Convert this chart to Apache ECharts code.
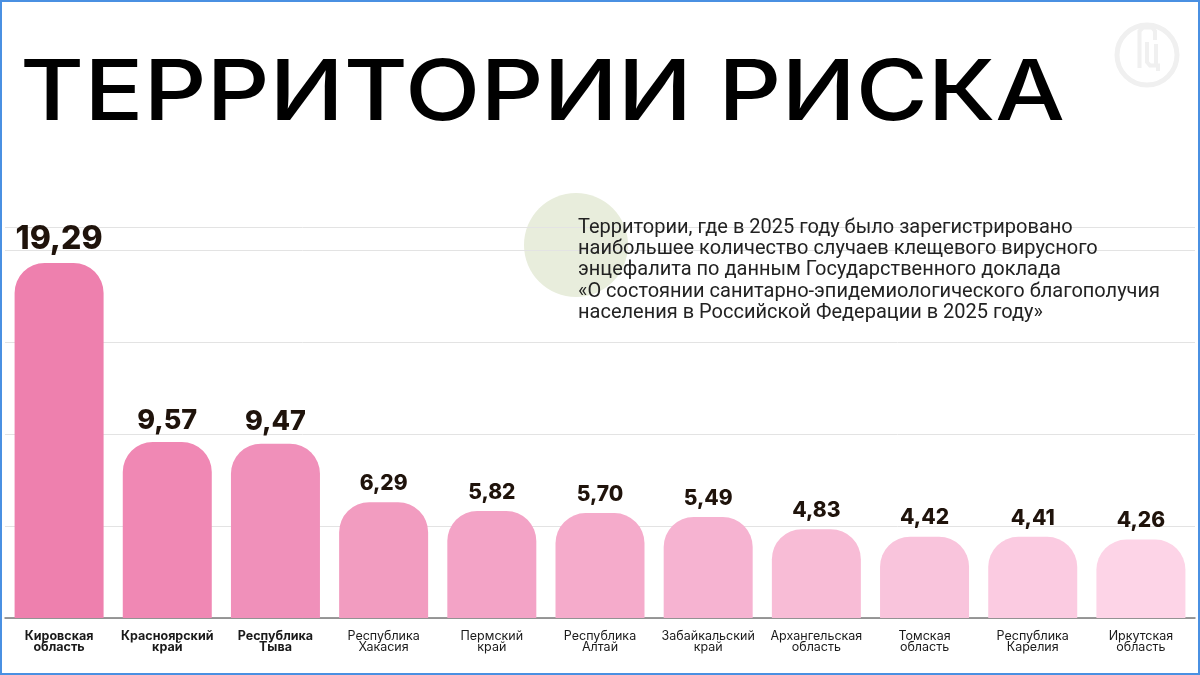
<!DOCTYPE html>
<html>
<head>
<meta charset="utf-8">
<script src="https://cdn.jsdelivr.net/npm/echarts@6/dist/echarts.min.js"></script>
<style>
html,body{margin:0;padding:0;background:#fff;}
#c{width:1200px;height:675px;}
</style>
</head>
<body>
<div id="c"></div>
<script>
const categories = ['Кировская\nобласть','Красноярский\nкрай','Республика\nТыва','Республика\nХакасия','Пермский\nкрай','Республика\nАлтай','Забайкальский\nкрай','Архангельская\nобласть','Томская\nобласть','Республика\nКарелия','Иркутская\nобласть'];
const values = [19.29, 9.57, 9.47, 6.29, 5.82, 5.70, 5.49, 4.83, 4.42, 4.41, 4.26];
const barColors = ['#ee80ae','#f088b4','#f090ba','#f29cc0','#f3a3c6','#f5abcb','#f6b3d1','#f8bcd6','#f9c4dc','#fbcbe1','#fdd4e7'];
const labelSizes = [32, 27, 27, 21, 21, 21, 21, 21, 21, 21, 21];
const boldCount = 3;
const titleText = 'ТЕРРИТОРИИ РИСКА';
const noteText = 'Территории, где в 2025 году было зарегистрировано\nнаибольшее количество случаев клещевого вирусного\nэнцефалита по данным Государственного доклада\n«О состоянии санитарно-эпидемиологического благополучия\nнаселения в Российской Федерации в 2025 году»';

const chart = echarts.init(document.getElementById('c'));
const catData = categories.map((c, i) => ({
  value: c,
  textStyle: { fontWeight: i < boldCount ? 'bold' : 'normal' }
}));
const barData = values.map((v, i) => ({
  value: v,
  itemStyle: { color: barColors[i] },
  label: { fontSize: labelSizes[i] }
}));

chart.setOption({
  animation: false,
  grid: { left: 5, right: 5, top: 227, bottom: 57, containLabel: false },
  xAxis: {
    type: 'category',
    data: catData,
    axisTick: { show: false },
    axisLine: { lineStyle: { color: '#7a7a7a', width: 1.5 } },
    axisLabel: {
      interval: 0,
      margin: 12,
      fontFamily: 'Inter',
      fontSize: 12.5,
      lineHeight: 11.5,
      color: '#1a1a1a'
    }
  },
  yAxis: {
    type: 'value',
    min: 0,
    max: 21.25,
    interval: 5,
    axisLabel: { show: false },
    axisLine: { show: false },
    axisTick: { show: false },
    splitLine: { lineStyle: { color: '#e3e3e3', width: 1 } }
  },
  series: [{
    type: 'bar',
    data: barData,
    barWidth: 89,
    itemStyle: { borderRadius: [30, 30, 0, 0] },
    label: {
      show: true,
      position: 'top',
      distance: 8,
      fontFamily: 'Inter',
      fontWeight: 800,
      color: '#1f130b',
      formatter: p => p.value.toFixed(2).replace('.', ',')
    }
  }],
  graphic: [
    { type: 'circle', z: -1, shape: { cx: 576, cy: 245, r: 52 }, style: { fill: '#e8eddc' } },
    { type: 'text', z: 10, x: 578, y: 217, style: { text: noteText, fontFamily: 'Roboto', fontSize: 20, lineHeight: 21.3, fill: '#222222', verticalAlign: 'top' } },
    { type: 'text', x: 20, y: 95, scaleX: 1.17, style: { text: titleText, fontFamily: 'Inter', fontWeight: 500, fontSize: 84, fill: '#000000', verticalAlign: 'middle' } },
    { type: 'circle', shape: { cx: 1147, cy: 55, r: 30 }, style: { fill: 'none', stroke: '#f0f0f0', lineWidth: 5 } },
    { type: 'polyline', shape: { points: [[1139.5, 68], [1139.5, 31], [1143, 27.5], [1152, 27.5], [1155, 31], [1155, 40]] }, style: { fill: 'none', stroke: '#f0f0f0', lineWidth: 4 } },
    { type: 'polyline', shape: { points: [[1147, 42], [1147, 62], [1150, 65.5], [1158, 65.5], [1158, 71]] }, style: { fill: 'none', stroke: '#f0f0f0', lineWidth: 4 } },
    { type: 'polyline', shape: { points: [[1156, 44], [1156, 64]] }, style: { fill: 'none', stroke: '#f0f0f0', lineWidth: 4 } },
    { type: 'rect', shape: { x: 1, y: 1, width: 1198, height: 673 }, style: { fill: 'none', stroke: '#4a90e2', lineWidth: 2 } }
  ]
});
</script>
</body>
</html>
